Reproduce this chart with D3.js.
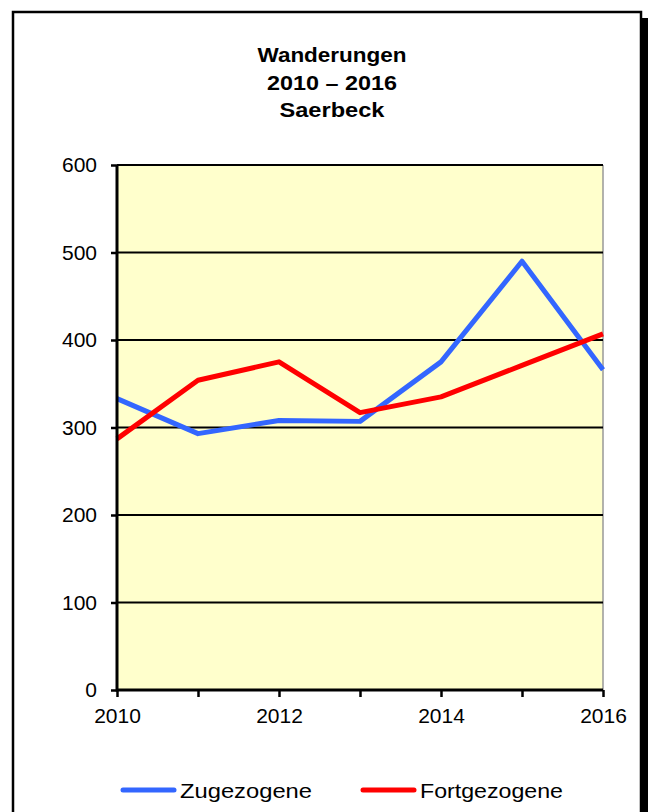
<!DOCTYPE html>
<html>
<head>
<meta charset="utf-8">
<script src="https://cdn.jsdelivr.net/npm/d3@7"></script>
<style>
  body { margin: 0; background: #fff; }
  svg { display: block; font-family: Arial, "Liberation Sans", sans-serif; }
</style>
</head>
<body>
<svg id="chart" width="648" height="812"></svg>
<script>
// chart data
var years = [2010, 2011, 2012, 2013, 2014, 2015, 2016];
var zugezogene = [333, 293, 308, 307, 375, 490, 366];
var fortgezogene = [287, 354, 375, 317, 335, 371, 407];
var yTicks = [0, 100, 200, 300, 400, 500, 600];
var xTicks = [2010, 2012, 2014, 2016];
var titleLines = ['Wanderungen', '2010 – 2016', 'Saerbeck'];
var seriesNames = ['Zugezogene', 'Fortgezogene'];

var svg = d3.select('#chart');

// frame + shadow
svg.append('rect').attr('x', 19).attr('y', 18).attr('width', 629).attr('height', 820).attr('fill', '#000');
svg.append('rect').attr('x', 13).attr('y', 12).attr('width', 628).attr('height', 820)
  .attr('fill', '#fff').attr('stroke', '#000').attr('stroke-width', 2.5);

// title (stretched a bit to match the wide original)
var titleW = [149, 130, 105];
svg.append('g')
  .selectAll('text')
  .data(titleLines)
  .enter()
  .append('text')
  .attr('text-anchor', 'middle')
  .style('font-weight', 'bold').style('font-size', '20.5px')
  .attr('x', 332)
  .attr('y', function(d, i) { return 62 + i * 27.5; })
  .attr('textLength', function(d, i) { return titleW[i]; })
  .attr('lengthAdjust', 'spacingAndGlyphs')
  .text(function(d) { return d; });

var pLeft = 117, pRight = 603, pTop = 165, pBottom = 690;
var x = d3.scaleLinear().domain([2010, 2016]).range([pLeft, pRight]);
var y = d3.scaleLinear().domain([0, 600]).range([pBottom, pTop]);

// plot area
svg.append('rect').attr('x', pLeft).attr('y', pTop)
  .attr('width', pRight - pLeft).attr('height', pBottom - pTop)
  .attr('fill', '#FFFFCC');
svg.append('line').attr('x1', pRight).attr('x2', pRight).attr('y1', pTop).attr('y2', pBottom)
  .attr('stroke', '#999').attr('stroke-width', 1.5);

// grid lines
svg.selectAll('line.grid')
  .data(yTicks.slice(1))
  .enter()
  .append('line')
  .attr('class', 'grid')
  .attr('x1', pLeft).attr('x2', pRight)
  .attr('y1', function(d) { return y(d); })
  .attr('y2', function(d) { return y(d); })
  .attr('stroke', '#000').attr('stroke-width', 2);

// series
var line = d3.line()
  .x(function(d, i) { return x(years[i]); })
  .y(function(d) { return y(d); });

svg.append('path').datum(zugezogene)
  .attr('d', line).attr('fill', 'none')
  .attr('stroke', '#3366FF').attr('stroke-width', 5).attr('stroke-linejoin', 'round');
svg.append('path').datum(fortgezogene)
  .attr('d', line).attr('fill', 'none')
  .attr('stroke', '#FF0000').attr('stroke-width', 5).attr('stroke-linejoin', 'round');

// axes
var yAxis = svg.append('g')
  .attr('transform', 'translate(' + pLeft + ',0)')
  .call(d3.axisLeft(y).tickValues(yTicks).tickSize(6).tickPadding(14));
var xAxis = svg.append('g')
  .attr('transform', 'translate(0,' + pBottom + ')')
  .call(d3.axisBottom(x).tickValues(years).tickSize(7).tickPadding(11)
    .tickFormat(function(d) { return xTicks.indexOf(d) >= 0 ? d : ''; }));

[yAxis, xAxis].forEach(function(a) {
  a.select('.domain').attr('stroke', '#000').attr('stroke-width', 3);
  a.selectAll('.tick line').attr('stroke', '#000').attr('stroke-width', 2.5);
  a.selectAll('text').attr('fill', '#000')
    .style('font-size', '21px').style('font-family', 'Arial, "Liberation Sans", sans-serif');
});
yAxis.select('.domain').attr('d', 'M0,' + (pBottom + 1.5) + 'V' + pTop);
xAxis.select('.domain').attr('d', 'M' + pLeft + ',0H' + pRight);

// legend
var legendColors = ['#3366FF', '#FF0000'];
var legendX = [123, 363];
var legendW = [132, 143];
var lg = svg.selectAll('g.legend')
  .data(seriesNames)
  .enter()
  .append('g')
  .attr('class', 'legend')
  .attr('transform', function(d, i) { return 'translate(' + legendX[i] + ',790)'; });
lg.append('line')
  .attr('x1', 0).attr('x2', 51).attr('y1', 0).attr('y2', 0)
  .attr('stroke', function(d, i) { return legendColors[i]; })
  .attr('stroke-width', 5).attr('stroke-linecap', 'round');
lg.append('text')
  .attr('x', 57).attr('y', 7.5)
  .style('font-size', '21px')
  .attr('textLength', function(d, i) { return legendW[i]; })
  .attr('lengthAdjust', 'spacingAndGlyphs')
  .text(function(d) { return d; });
</script>
</body>
</html>
